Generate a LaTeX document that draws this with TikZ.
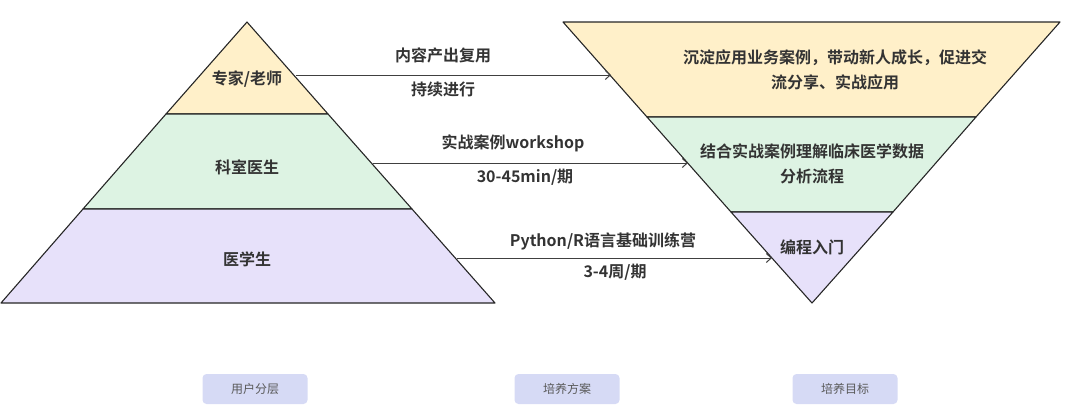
\documentclass[tikz,border=0pt]{standalone}
\usepackage{fontspec}
\newfontfamily\cjk{Noto Sans CJK SC}[BoldFont={* Bold}]
\usetikzlibrary{arrows.meta}
\definecolor{cy}{HTML}{FFF0C9}
\definecolor{cg}{HTML}{DDF3E3}
\definecolor{cp}{HTML}{E7E1FA}
\definecolor{cb}{HTML}{D6DAF5}
\definecolor{tx}{HTML}{333333}
\tikzset{
 band/.style={draw=black!85, line width=1.1pt, line join=round},
 lbl/.style={font=\cjk\bfseries\fontsize{16}{25}\selectfont, text=tx, align=center, inner sep=1pt},
 arr/.style={draw=black!75, line width=1pt, -{Straight Barb[length=5pt,width=9pt]}},
 btn/.style={fill=cb, rounded corners=4pt, minimum width=105pt, minimum height=30pt, font=\cjk\fontsize{12}{14}\selectfont, text=black!65}
}
\begin{document}
\begin{tikzpicture}[x=1pt,y=-1pt]
\useasboundingbox (0,0) rectangle (1080,416);
% left pyramid
\path[band, fill=cy] (247,22) -- (328,114) -- (166,114) -- cycle;
\path[band, fill=cg] (166,114) -- (328,114) -- (412,209) -- (83,209) -- cycle;
\path[band, fill=cp] (83,209) -- (412,209) -- (495,303) -- (1,303) -- cycle;
% right inverted
\path[band, fill=cy] (563,22) -- (1060,22) -- (976,117) -- (647,117) -- cycle;
\path[band, fill=cg] (647,117) -- (976,117) -- (893,212) -- (731,212) -- cycle;
\path[band, fill=cp] (731,212) -- (893,212) -- (812,303) -- cycle;
% labels
\node[lbl] (l1) at (247,79) {专家/老师};
\node[lbl] (l2) at (247,167) {科室医生};
\node[lbl] (l3) at (247,259) {医学生};
\node[lbl] (r1) at (835,70) {沉淀应用业务案例，带动新人成长，促进交\\流分享、实战应用};
\node[lbl] (r2) at (812,164) {结合实战案例理解临床医学数据\\分析流程};
\node[lbl] (r3) at (812,247) {编程入门};
% connectors
\coordinate (a1) at (296,75); \coordinate (b1) at (611,75);
\coordinate (a2) at (373,163); \coordinate (b2) at (688,163);
\coordinate (a3) at (457,258); \coordinate (b3) at (772,258);
\draw[arr] (a1) -- (b1);
\draw[arr] (a2) -- (b2);
\draw[arr] (a3) -- (b3);
\node[lbl] (t1) at (443,55) {内容产出复用};
\node[lbl] (u1) at (443,89) {持续进行};
\node[lbl] (t2) at (513,143) {实战案例workshop};
\node[lbl] (u2) at (525,177) {30-45min/期};
\node[lbl] (t3) at (603,241) {Python/R语言基础训练营};
\node[lbl] (u3) at (615,272) {3-4周/期};
% buttons
\node[btn] (k1) at (255,389) {用户分层};
\node[btn] (k2) at (567,389) {培养方案};
\node[btn] (k3) at (845,389) {培养目标};
\end{tikzpicture}
\end{document}
